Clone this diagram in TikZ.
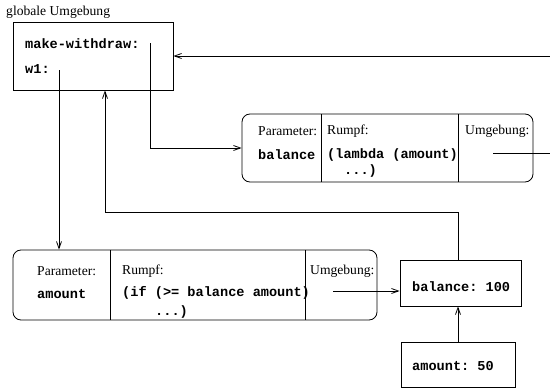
\documentclass[tikz,border=0pt]{standalone}
\usepackage{fontspec}
\setmainfont{Liberation Serif}
\setmonofont{Liberation Mono}
\usetikzlibrary{arrows.meta}
\tikzstyle{every picture}+=[font=\fontsize{13.6}{15}\selectfont]

\begin{document}
\begin{tikzpicture}[x=1pt, y=-1pt,
  frame/.style={draw, line width=.8pt, inner sep=0pt},
  procframe/.style={frame, rounded corners=8pt},
  txt/.style={anchor=west, inner sep=0pt},
  code/.style={txt, font=\fontsize{13.6}{15}\selectfont\ttfamily\bfseries},
  ptr/.style={line width=.8pt, -{Straight Barb[length=7pt, width=5pt]}},
  wire/.style={line width=.8pt}]
\useasboundingbox (0,0) rectangle (550,388);

%% global environment
\node[txt] (globlabel) at (6,12) {globale Umgebung};
\node[frame, minimum width=160pt, minimum height=68pt] (globenv) at (93,56) {};
\node[code] (mw) at (25,44) {make-withdraw:};
\node[code] (wone) at (25,69) {w1:};

%% procedure make-withdraw
\node[procframe, minimum width=291pt, minimum height=68pt] (procmw) at (387.5,148) {};
\draw[wire] (321,114) -- (321,182);
\draw[wire] (458,114) -- (458,182);
\node[txt] (parmw) at (258,131) {Parameter:};
\node[code] (balparm) at (258,155) {balance};
\node[txt] (rumpfmw) at (327,131) {Rumpf:};
\node[code] (lambda) at (327,155) {(lambda (amount)};
\node[code] (lambdaend) at (344,171) {...)};
\node[txt] (umgmw) at (465,131) {Umgebung:};

%% procedure w1
\node[procframe, minimum width=364pt, minimum height=70pt] (procwone) at (195,285) {};
\draw[wire] (110,250) -- (110,320);
\draw[wire] (305,250) -- (305,320);
\node[txt] (parwone) at (37,271) {Parameter:};
\node[code] (amtparm) at (37,294) {amount};
\node[txt] (rumpfwone) at (122,271) {Rumpf:};
\node[code] (ifbody) at (122,293) {(if (>= balance amount)};
\node[code] (ifend) at (155,312) {...)};
\node[txt] (umgwone) at (310,271) {Umgebung:};

%% frames
\node[frame, minimum width=121pt, minimum height=46pt] (balenv) at (460.5,283) {};
\node[code] (balval) at (412,287) {balance: 100};
\node[frame, minimum width=114pt, minimum height=45pt] (amtenv) at (458,364.5) {};
\node[code] (amtval) at (412,366) {amount: 50};

%% pointers
\coordinate (mwptr) at (150,43);
\coordinate (woneptr) at (59,70);
\coordinate (envmwptr) at (493,153);
\coordinate (envmwout) at (550,153);
\coordinate (envmwin) at (550,56);
\coordinate (envwoneptr) at (333,291);
\coordinate (balup) at (458,260);
\coordinate (turn) at (458,212);

\draw[ptr] (mwptr) |- (procmw.west);
\draw[ptr] (woneptr) -- (woneptr |- procwone.north);
\draw[wire] (envmwptr) -- (envmwout);
\draw[ptr] (envmwin) -- (globenv.east);
\draw[ptr] (envwoneptr) -- (envwoneptr -| balenv.west);
\draw[ptr] (balup) -- (turn) -| (105,0 |- globenv.south);
\draw[ptr] (amtenv.north -| balup) -- (balup |- balenv.south);
\end{tikzpicture}
\end{document}
